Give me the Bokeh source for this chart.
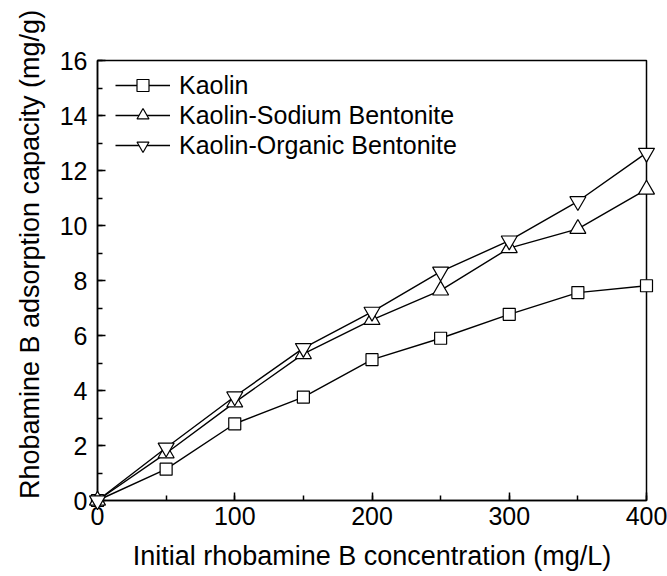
import math
from bokeh.plotting import figure
from bokeh.models import Range1d, SingleIntervalTicker, Legend, LegendItem
from bokeh.core.properties import value
from bokeh.embed import file_html
from bokeh.resources import INLINE

concentration = [0, 50, 100, 150, 200, 250, 300, 350, 400]
kaolin = [0, 1.14, 2.79, 3.76, 5.12, 5.90, 6.77, 7.56, 7.81]
kaolin_sodium = [0, 1.72, 3.57, 5.33, 6.57, 7.64, 9.18, 9.88, 11.31]
kaolin_organic = [0, 1.92, 3.78, 5.54, 6.86, 8.32, 9.45, 10.88, 12.64]
series_names = ["Kaolin", "Kaolin-Sodium Bentonite", "Kaolin-Organic Bentonite"]
x_title = "Initial rhobamine B concentration (mg/L)"
y_title = "Rhobamine B adsorption capacity (mg/g)"

FONT = "Liberation Sans"
W, H = 667, 576
BL, BR, BT, BB = 97, 21, 60, 76
X0, X1, Y0, Y1 = 0, 400, 0, 16

p = figure(width=W, height=H, output_backend="svg", toolbar_location=None,
           x_range=Range1d(X0, X1), y_range=Range1d(Y0, Y1),
           min_border_left=BL, min_border_right=BR, min_border_top=BT, min_border_bottom=BB)

p.grid.visible = False
p.outline_line_color = "black"
p.outline_line_width = 1.5
p.background_fill_color = "white"
p.border_fill_color = "white"

for ax, interval in ((p.xaxis[0], 100), (p.yaxis[0], 2)):
    ax.ticker = SingleIntervalTicker(interval=interval, num_minor_ticks=2)
    ax.axis_line_width = 1.5
    ax.axis_line_color = "black"
    ax.major_tick_in = 8
    ax.major_tick_out = 0
    ax.minor_tick_in = 5
    ax.minor_tick_out = 0
    ax.major_tick_line_width = 1.5
    ax.minor_tick_line_width = 1.5
    ax.major_label_text_font = FONT
    ax.major_label_text_font_size = "25px"
    ax.major_label_text_color = "black"
    ax.axis_label_text_font = FONT
    ax.axis_label_text_font_size = "27px"
    ax.axis_label_text_font_style = "normal"
    ax.axis_label_text_color = "black"

p.xaxis.axis_label = x_title
p.xaxis.major_label_standoff = 6
p.yaxis.major_label_standoff = 10
p.xaxis.axis_label_standoff = 13

# y-axis title drawn as overlay text (positioned in pixels left of the frame)
frame_w = W - BL - BR
frame_h = H - BT - BB
ty_x = X0 - 68 * (X1 - X0) / frame_w
ty_y = Y0 + (H - BB - 254) * (Y1 - Y0) / frame_h
p.text(x=[ty_x], y=[ty_y], text=[y_title], angle=math.pi / 2,
       text_align="center", text_baseline="middle",
       text_font=value(FONT), text_font_size="27px", text_color="black",
       level="overlay")

items = []
for name, ys, marker, size in ((series_names[0], kaolin, "square", 12),
                               (series_names[1], kaolin_sodium, "triangle", 16),
                               (series_names[2], kaolin_organic, "inverted_triangle", 16)):
    r1 = p.line(concentration, ys, line_color="black", line_width=1.4, level="overlay")
    r2 = p.scatter(concentration, ys, marker=marker, size=size, fill_color="white",
                   line_color="black", line_width=1.2, level="overlay")
    items.append(LegendItem(label=name, renderers=[r1, r2]))

legend = Legend(items=items, location=(18, 340))
legend.border_line_color = None
legend.background_fill_alpha = 0
legend.label_text_font = FONT
legend.label_text_font_size = "25px"
legend.label_text_color = "black"
legend.glyph_width = 55
legend.glyph_height = 30
legend.label_height = 30
legend.spacing = 0
legend.padding = 0
legend.margin = 0
legend.label_standoff = 9
p.add_layout(legend, "center")

open("out.html", "w").write(file_html(p, INLINE))
